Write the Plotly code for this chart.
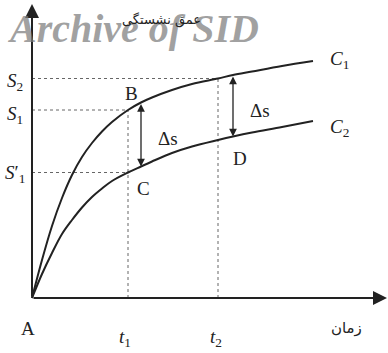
import plotly.graph_objects as go

# Settlement versus time for two consolidation curves (arbitrary units)
time_c1 = [0, 1, 2, 3, 4, 5, 6, 7, 8, 9.6, 10.9, 12, 14, 16, 18.6, 20.1, 22, 25, 28.1]
settle_c1 = [0, 3.8, 7.2, 10.0, 12.3, 14.1, 15.5, 16.65, 17.6, 18.8, 19.55, 20.05, 20.8,
             21.4, 21.95, 22.3, 22.65, 23.2, 23.7]

time_c2 = [0, 1, 2, 3, 4, 5, 6, 7, 8, 9.6, 10.9, 12, 14, 16, 18.6, 20.1, 22, 25, 28.1]
settle_c2 = [0, 2.4, 4.5, 6.4, 7.8, 9.05, 10.1, 10.95, 11.7, 12.55, 13.15, 13.65, 14.5,
             15.15, 15.8, 16.15, 16.55, 17.1, 17.7]

# Reference times and settlements
t1, t2 = 9.6, 18.6
s1, s2, s1_prime = 18.8, 21.95, 12.55

# Indices of the points where the settlement gap is marked
gap_idx = [10, 15]

INK = "#222222"
SERIF = "Liberation Serif, Times New Roman, serif"

fig = go.Figure()

# Dotted guide lines
guides = [
    ([0, t2], [s2, s2]),
    ([t2, t2], [0, s2]),
    ([0, t1], [s1, s1]),
    ([0, t1], [s1_prime, s1_prime]),
    ([t1, t1], [0, s1]),
]
for gx, gy in guides:
    fig.add_trace(go.Scatter(x=gx, y=gy, mode="lines",
                             line=dict(color="#666666", width=1, dash="dot"),
                             hoverinfo="skip", showlegend=False))

for tx, sy in [(time_c1, settle_c1), (time_c2, settle_c2)]:
    fig.add_trace(go.Scatter(x=tx, y=sy, mode="lines",
                             line=dict(color=INK, width=2, shape="spline", smoothing=1.0),
                             hoverinfo="skip", showlegend=False))

ann = []

# Axes drawn as arrows from the origin
ann.append(dict(x=35.5, y=0, ax=0, ay=0, xref="x", yref="y", axref="x", ayref="y",
                showarrow=True, arrowhead=2, arrowsize=1.4, arrowwidth=2, arrowcolor=INK, text=""))
ann.append(dict(x=0, y=29.4, ax=0, ay=0, xref="x", yref="y", axref="x", ayref="y",
                showarrow=True, arrowhead=2, arrowsize=1.4, arrowwidth=2, arrowcolor=INK, text=""))

# Double arrows showing the settlement difference
for i in gap_idx:
    ann.append(dict(x=time_c1[i], y=settle_c2[i], ax=time_c1[i], ay=settle_c1[i],
                    xref="x", yref="y", axref="x", ayref="y", showarrow=True,
                    arrowhead=2, startarrowhead=2, arrowside="end+start",
                    arrowsize=1.2, startarrowsize=1.2, arrowwidth=1.3,
                    arrowcolor=INK, text=""))

def label(x, y, text, size=19, family=SERIF):
    ann.append(dict(x=x, y=y, xref="x", yref="y", text=text, showarrow=False,
                    font=dict(family=family, size=size, color=INK),
                    xanchor="center", yanchor="middle"))

# Watermark
ann.append(dict(x=10.1, y=27.0, xref="x", yref="y", text="<b><i>Archive of SID</i></b>",
                showarrow=False, font=dict(family=SERIF, size=40, color="rgba(125,125,125,0.72)"),
                xanchor="center", yanchor="middle"))

label(12.9, 27.8, "عمق نشستگی", size=13, family="DejaVu Sans")
label(31.4, -3.0, "زمان", size=15, family="DejaVu Sans")

label(-0.4, -3.0, "A")
label(9.3, -4.0, "<i>t</i><sub>1</sub>")
label(18.4, -4.0, "<i>t</i><sub>2</sub>")
label(-1.7, 21.6, "<i>S</i><sub>2</sub>")
label(-1.7, 18.3, "<i>S</i><sub>1</sub>")
label(-1.7, 12.4, "<i>S</i>′<sub>1</sub>")
label(9.9, 20.5, "B")
label(11.1, 11.0, "C")
label(20.8, 14.0, "D")
label(13.6, 16.0, "Δs")
label(22.8, 18.8, "Δs")
label(30.7, 23.8, "<i>C</i><sub>1</sub>")
label(30.7, 17.0, "<i>C</i><sub>2</sub>")

fig.update_layout(
    width=388, height=353,
    margin=dict(l=0, r=0, t=0, b=0),
    paper_bgcolor="white", plot_bgcolor="white",
    xaxis=dict(range=[-3.2, 35.6], visible=False, fixedrange=True),
    yaxis=dict(range=[-5.5, 29.8], visible=False, fixedrange=True),
    annotations=ann,
    showlegend=False,
)

fig.write_html("out.html")
